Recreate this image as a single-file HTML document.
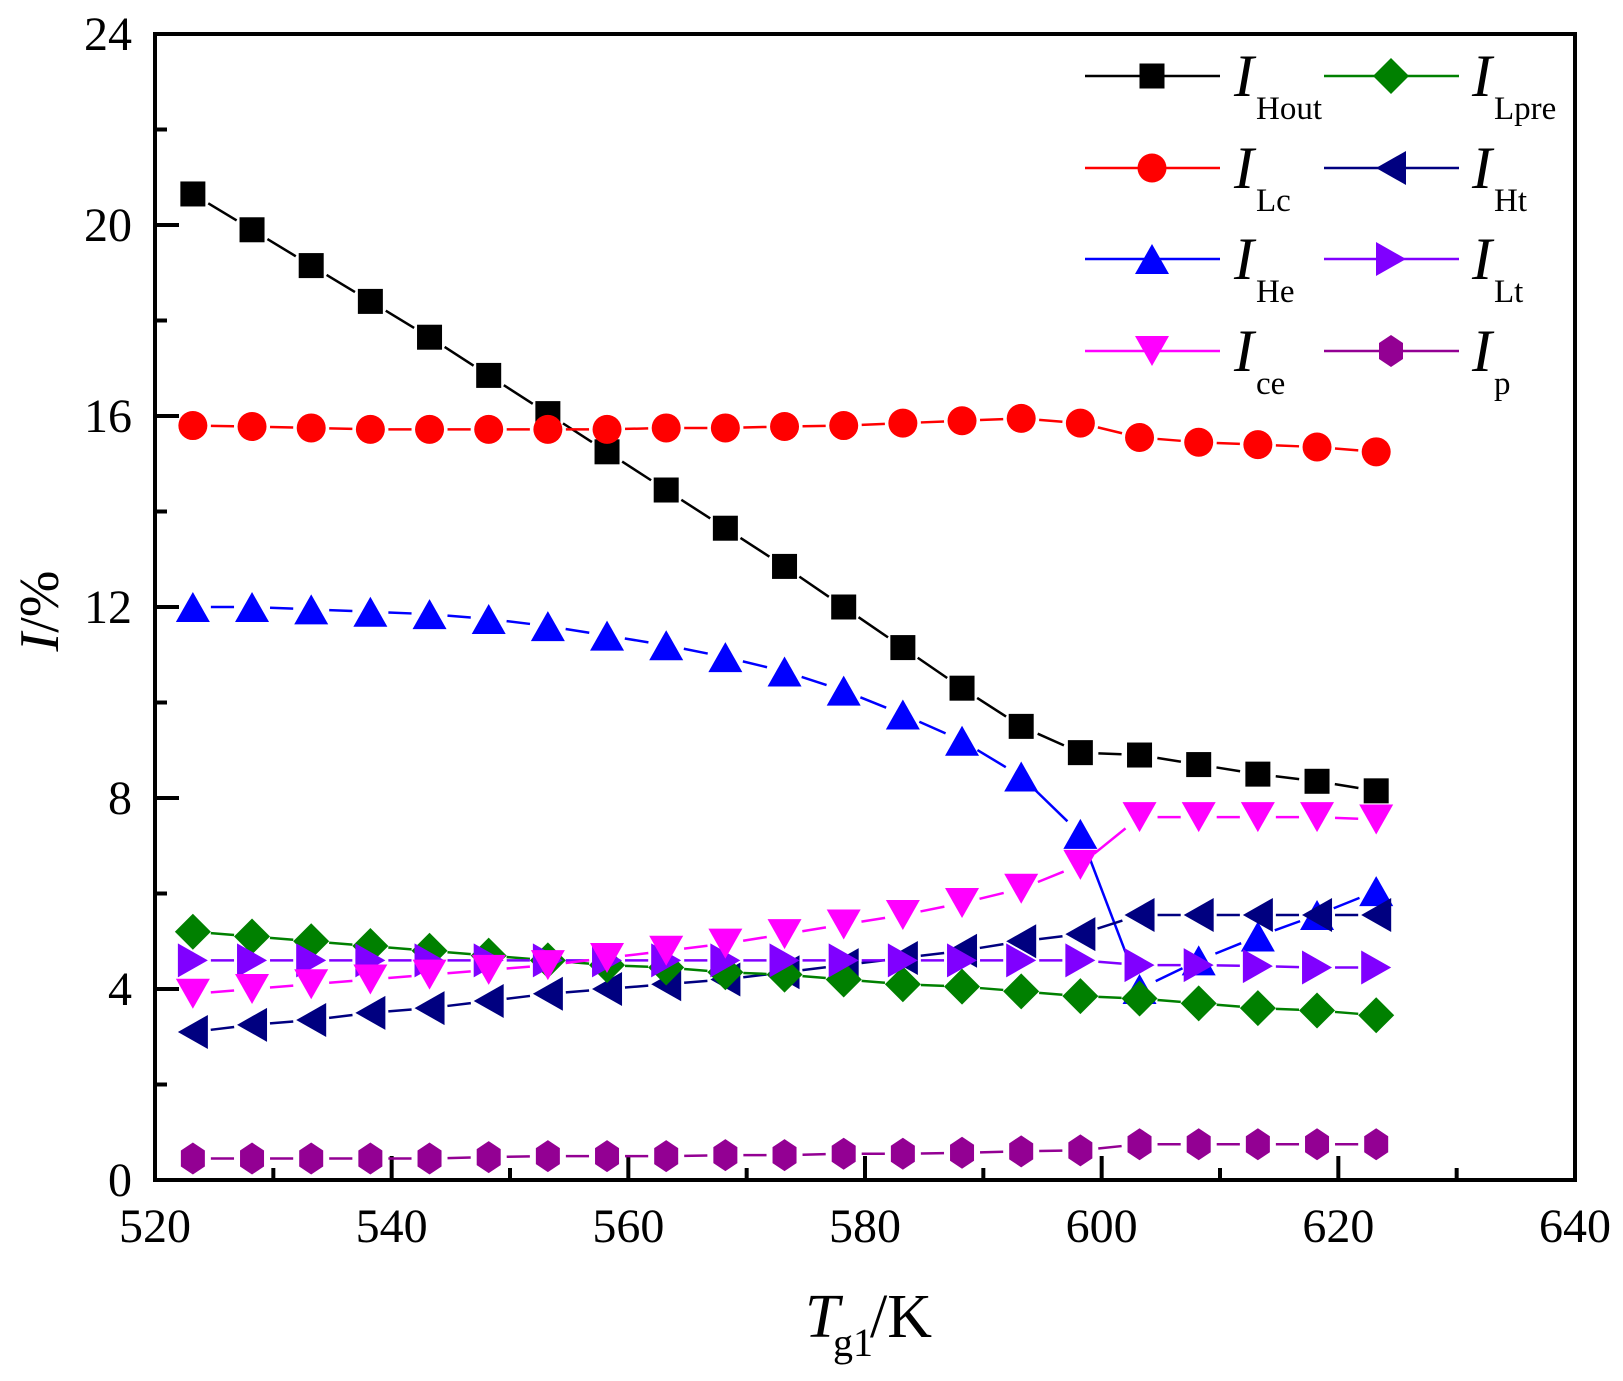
<!DOCTYPE html>
<html><head><meta charset="utf-8"><style>
html,body{margin:0;padding:0;background:#fff;}
svg{display:block;font-family:"Liberation Serif",serif;}
</style></head><body>
<svg id="s" width="1623" height="1381" viewBox="0 0 1623 1381" xmlns="http://www.w3.org/2000/svg"></svg>
<script>
const S=document.getElementById('s');
let h='';
const X0=155,X1=1575,Y0=1180,Y1=34;
const fx=v=>X0+(v-520)*(X1-X0)/120, fy=v=>Y0-v*(Y0-Y1)/24;
h+=`<rect x="${X0}" y="${Y1}" width="${X1-X0}" height="${Y0-Y1}" fill="none" stroke="#000" stroke-width="4"/>`;
for(let v=0;v<=24;v+=2){const y=fy(v),L=v%4==0?24:12;h+=`<line x1="${X0}" y1="${y}" x2="${X0+L}" y2="${y}" stroke="#000" stroke-width="4"/>`;
 if(v%4==0)h+=`<text x="132" y="${y+16}" font-size="48" text-anchor="end">${v}</text>`;}
for(let v=520;v<=640;v+=10){const x=fx(v),L=v%20==0?24:12;h+=`<line x1="${x}" y1="${Y0}" x2="${x}" y2="${Y0-L}" stroke="#000" stroke-width="4"/>`;
 if(v%20==0)h+=`<text x="${x}" y="1242" font-size="48" text-anchor="middle">${v}</text>`;}
h+=`<text transform="translate(58,611) rotate(-90)" font-size="56" text-anchor="middle"><tspan font-style="italic">I</tspan>/%</text>`;
h+=`<text x="805" y="1337" font-size="62" font-style="italic">T</text><text x="833" y="1356" font-size="40">g1</text><text x="870" y="1337" font-size="62">/K</text>`;
const xs=[];for(let i=0;i<21;i++)xs.push(523.2+5*i);
const D=[
['#000','sq',[20.65,19.9,19.15,18.4,17.65,16.85,16.05,15.25,14.45,13.65,12.85,12.0,11.15,10.3,9.5,8.95,8.9,8.7,8.5,8.35,8.15]],
['#ff0000','ci',[15.8,15.78,15.75,15.72,15.72,15.72,15.72,15.72,15.75,15.75,15.78,15.8,15.85,15.9,15.95,15.85,15.55,15.45,15.4,15.35,15.25]],
['#0000ff','tu',[12.0,12.0,11.95,11.9,11.85,11.75,11.6,11.4,11.2,10.95,10.65,10.25,9.75,9.2,8.45,7.25,4.0,4.6,5.1,5.55,6.05]],
['#000080','tl',[3.1,3.25,3.35,3.5,3.6,3.75,3.9,4.0,4.1,4.2,4.35,4.5,4.65,4.8,5.0,5.15,5.55,5.55,5.55,5.55,5.55]],
['#008000','di',[5.2,5.1,5.0,4.9,4.8,4.7,4.6,4.5,4.45,4.35,4.3,4.2,4.1,4.05,3.95,3.85,3.8,3.7,3.6,3.55,3.45]],
['#8000ff','tr',[4.6,4.6,4.6,4.6,4.6,4.6,4.6,4.6,4.6,4.6,4.6,4.6,4.6,4.6,4.6,4.6,4.5,4.5,4.48,4.45,4.45]],
['#ff00ff','td',[3.9,4.0,4.1,4.2,4.3,4.4,4.5,4.65,4.8,4.95,5.15,5.35,5.55,5.8,6.1,6.6,7.6,7.6,7.6,7.6,7.55]],
['#930093','hx',[0.45,0.45,0.45,0.45,0.45,0.48,0.5,0.5,0.5,0.52,0.52,0.55,0.55,0.57,0.6,0.62,0.75,0.75,0.75,0.75,0.75]]];
function mk(t,x,y,c){
 switch(t){case'sq':return `<rect x="${x-12.5}" y="${y-12.5}" width="25" height="25" fill="${c}"/>`;
 case'ci':return `<circle cx="${x}" cy="${y}" r="14.5" fill="${c}"/>`;
 case'tu':return `<polygon points="${x},${y-15} ${x-17},${y+15} ${x+17},${y+15}" fill="${c}"/>`;
 case'td':return `<polygon points="${x},${y+15} ${x-17},${y-15} ${x+17},${y-15}" fill="${c}"/>`;
 case'tl':return `<polygon points="${x-15},${y} ${x+15},${y-17} ${x+15},${y+17}" fill="${c}"/>`;
 case'tr':return `<polygon points="${x+15},${y} ${x-15},${y-17} ${x-15},${y+17}" fill="${c}"/>`;
 case'di':return `<polygon points="${x},${y-18} ${x+18},${y} ${x},${y+18} ${x-18},${y}" fill="${c}"/>`;
 case'hx':return `<polygon points="${x},${y-16} ${x+12},${y-8} ${x+12},${y+8} ${x},${y+16} ${x-12},${y+8} ${x-12},${y-8}" fill="${c}"/>`;}}
D.forEach(([c,t,v])=>{for(let i=0;i<20;i++){const a=fx(xs[i]),b=fy(v[i]),e=fx(xs[i+1]),f=fy(v[i+1]);const dx=e-a,dy=f-b,l=Math.hypot(dx,dy),g=18;if(l>2*g)h+=`<line x1="${a+dx*g/l}" y1="${b+dy*g/l}" x2="${e-dx*g/l}" y2="${f-dy*g/l}" stroke="${c}" stroke-width="2.5"/>`;}});
D.forEach(([c,t,v])=>{v.forEach((y,i)=>h+=mk(t,fx(xs[i]),fy(y),c));});
const L=[[0,0,'Hout'],[1,0,'Lc'],[2,0,'He'],[6,0,'ce'],[4,1,'Lpre'],[3,1,'Ht'],[5,1,'Lt'],[7,1,'p']];
const rows={0:76,1:168,2:259,6:351,4:76,3:168,5:259,7:351};
L.forEach(([k,col,sub])=>{const [c,t]=D[k];const y=rows[k];const x0=col?1324:1085;
 h+=`<line x1="${x0}" y1="${y}" x2="${x0+135}" y2="${y}" stroke="${c}" stroke-width="2.5"/>`+mk(t,x0+67,y,c);
 const lx=col?1472:1234;
 h+=`<text x="${lx}" y="${y+20}" font-size="60" font-style="italic">I</text><text x="${lx+22}" y="${y+43}" font-size="33">${sub}</text>`;});
S.innerHTML=h;
</script>
</body></html>
